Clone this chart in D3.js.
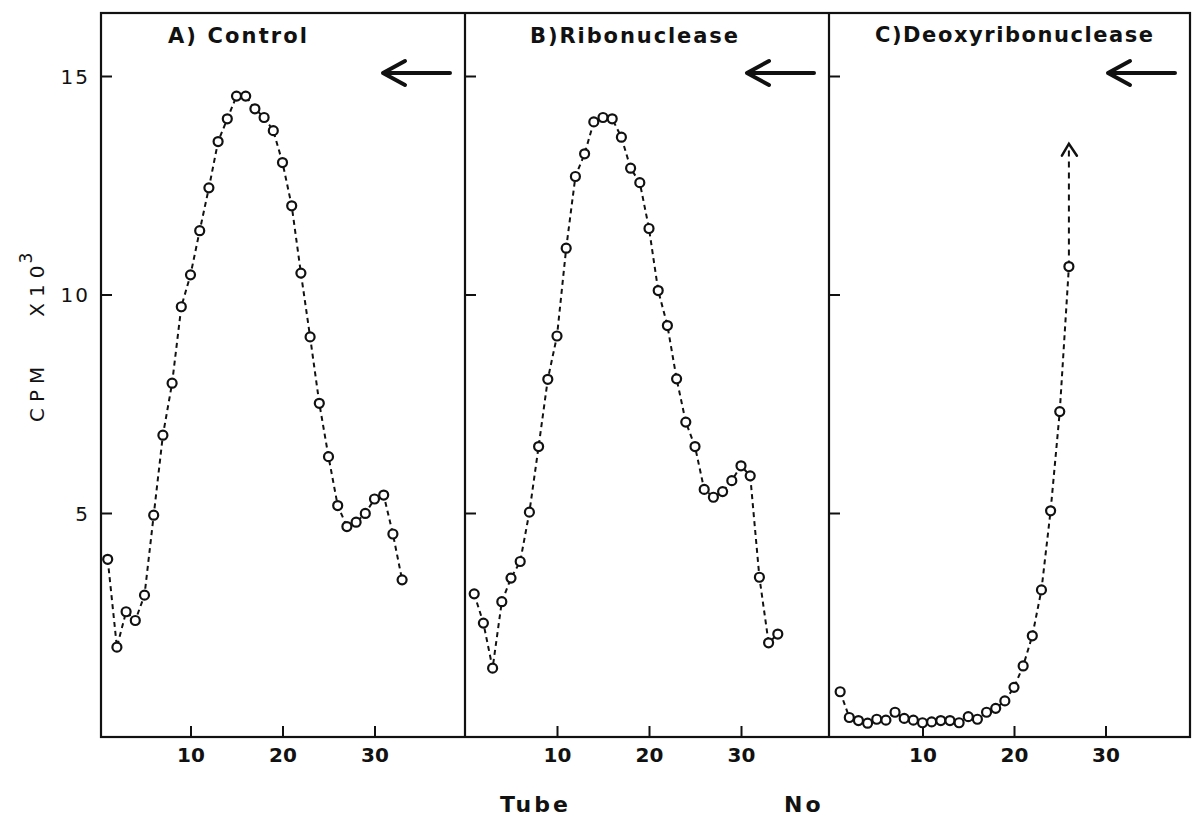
<!DOCTYPE html>
<html>
<head>
<meta charset="utf-8">
<script src="https://cdn.jsdelivr.net/npm/d3@7/dist/d3.min.js"></script>
<style>
body { margin: 0; background: #fff; }
text { font-family: "DejaVu Sans", sans-serif; fill: #111; }
</style>
</head>
<body>
<svg id="chart" width="1202" height="816"></svg>
<script>
// tube numbers and CPM (x10^3)
var tubesA = [1,2,3,4,5,6,7,8,9,10,11,12,13,14,15,16,17,18,19,20,21,22,23,24,25,26,27,28,29,30,31,32,33];
var cpmA = [3.94,1.93,2.74,2.54,3.12,4.95,6.78,7.97,9.72,10.45,11.46,12.44,13.5,14.02,14.54,14.54,14.25,14.05,13.75,13.02,12.03,10.49,9.03,7.51,6.29,5.17,4.69,4.79,4.99,5.32,5.41,4.52,3.47];

var tubesB = [1,2,3,4,5,6,7,8,9,10,11,12,13,14,15,16,17,18,19,20,21,22,23,24,25,26,27,28,29,30,31,32,33,34];
var cpmB = [3.15,2.48,1.45,2.97,3.51,3.89,5.02,6.52,8.06,9.05,11.06,12.7,13.22,13.95,14.05,14.02,13.6,12.89,12.56,11.51,10.09,9.29,8.07,7.08,6.52,5.54,5.36,5.49,5.74,6.08,5.85,3.53,2.03,2.23];

var tubesC = [1,2,3,4,5,6,7,8,9,10,11,12,13,14,15,16,17,18,19,20,21,22,23,24,25,26];
var cpmC = [0.91,0.32,0.25,0.19,0.28,0.26,0.44,0.30,0.26,0.20,0.22,0.25,0.25,0.20,0.34,0.28,0.44,0.53,0.70,1.01,1.50,2.19,3.24,5.05,7.32,10.64];
// panel C runs off scale: dashed line continues up to an arrowhead
var offScaleC = [26, 13.45];

var titles = ["A) Control", "B)Ribonuclease", "C)Deoxyribonuclease"];
var xTicks = [10, 20, 30];
var yTicks = [5, 10, 15];

var svg = d3.select("#chart");

var frameTop = 13, frameBottom = 737;
var y = d3.scaleLinear().domain([0, 15]).range([731.5, 76]);

var panels = [
    {left: 101, right: 465, range: [98.5, 466.5], tubes: tubesA, cpm: cpmA, title: titles[0], tx: 168, tw: 139, ty: 43},
    {left: 465, right: 829, range: [465, 833], tubes: tubesB, cpm: cpmB, title: titles[1], tx: 530, tw: 208, ty: 43},
    {left: 829, right: 1190, range: [831, 1197], tubes: tubesC, cpm: cpmC, title: titles[2], tx: 875, tw: 278, ty: 42}
];

// frame
svg.append("rect")
    .attr("x", 101).attr("y", frameTop)
    .attr("width", 1190 - 101).attr("height", frameBottom - frameTop)
    .attr("fill", "none").attr("stroke", "#111").attr("stroke-width", 2.2);

panels.forEach(function(p, k) {
    var x = d3.scaleLinear().domain([0, 40]).range(p.range);

    if (k > 0) {
        svg.append("line")
            .attr("x1", p.left).attr("x2", p.left)
            .attr("y1", frameTop).attr("y2", frameBottom)
            .attr("stroke", "#111").attr("stroke-width", 2.2);
    }

    // inward y ticks
    var yt = svg.append("g")
        .attr("transform", "translate(" + p.left + ",0)")
        .call(d3.axisRight(y).tickValues(yTicks).tickSize(11).tickFormat(""));
    yt.select(".domain").remove();
    yt.selectAll("line").attr("stroke", "#111").attr("stroke-width", 2);

    // inward x ticks
    var xt = svg.append("g")
        .attr("transform", "translate(0," + frameBottom + ")")
        .call(d3.axisTop(x).tickValues(xTicks).tickSize(11).tickFormat(""));
    xt.select(".domain").remove();
    xt.selectAll("line").attr("stroke", "#111").attr("stroke-width", 2);

    var xl = svg.append("g")
        .attr("transform", "translate(0," + frameBottom + ")")
        .call(d3.axisBottom(x).tickValues(xTicks).tickSize(0));
    xl.select(".domain").remove();
    xl.selectAll("text")
        .attr("y", 25).attr("dy", 0)
        .style("font-size", "20px").style("font-weight", "bold")
        .attr("fill", "#111");

    if (k === 0) {
        var yl = svg.append("g")
            .attr("transform", "translate(" + p.left + ",0)")
            .call(d3.axisLeft(y).tickValues(yTicks).tickSize(0).tickPadding(11));
        yl.select(".domain").remove();
        yl.selectAll("text")
            .attr("dy", "0.36em")
            .style("font-size", "20px")
            .style("letter-spacing", "2px")
            .attr("fill", "#111");
    }

    // title
    svg.append("text")
        .attr("x", p.tx).attr("y", p.ty)
        .attr("textLength", p.tw).attr("lengthAdjust", "spacing")
        .style("font-size", "21px").style("font-weight", "bold")
        .text(p.title);

    // left pointing arrow, top right of each panel
    var ay = y(15) - 3, tip = p.right - 82, tail = p.right - 15;
    svg.append("path")
        .attr("d", "M" + tail + "," + ay + "H" + tip +
              "M" + (tip + 22) + "," + (ay - 12) + "L" + tip + "," + ay + "L" + (tip + 22) + "," + (ay + 12))
        .attr("fill", "none").attr("stroke", "#111")
        .attr("stroke-width", 4).attr("stroke-linecap", "round").attr("stroke-linejoin", "round");

    var pts = p.tubes.map(function(t, i) { return [t, p.cpm[i]]; });

    var line = d3.line()
        .x(function(d) { return x(d[0]); })
        .y(function(d) { return y(d[1]); });

    svg.append("path")
        .datum(pts)
        .attr("d", line)
        .attr("fill", "none").attr("stroke", "#111")
        .attr("stroke-width", 2).attr("stroke-dasharray", "5,4");

    if (k === 2) {
        var last = pts[pts.length - 1];
        svg.append("path")
            .datum([last, offScaleC])
            .attr("d", line)
            .attr("fill", "none").attr("stroke", "#111")
            .attr("stroke-width", 2).attr("stroke-dasharray", "6,5");
        var hx = x(offScaleC[0]), hy = y(offScaleC[1]);
        svg.append("path")
            .attr("d", "M" + (hx - 7) + "," + (hy + 12) + "L" + hx + "," + hy + "L" + (hx + 8) + "," + (hy + 12))
            .attr("fill", "none").attr("stroke", "#111")
            .attr("stroke-width", 2.5).attr("stroke-linecap", "round");
    }

    svg.append("g").selectAll("circle")
        .data(pts)
        .enter().append("circle")
        .attr("cx", function(d) { return x(d[0]); })
        .attr("cy", function(d) { return y(d[1]); })
        .attr("r", 4.5)
        .attr("fill", "#fff").attr("stroke", "#111").attr("stroke-width", 2.2);
});

// axis titles
var ylab = svg.append("text")
    .attr("transform", "translate(44,422) rotate(-90)")
    .style("font-size", "20px")
    .style("letter-spacing", "6px");
ylab.append("tspan").text("CPM");
ylab.append("tspan").attr("dx", 44).text("X10");
ylab.append("tspan").attr("dy", -12).attr("dx", -4).style("font-size", "17px").text("3");

svg.append("text")
    .attr("x", 500).attr("y", 812)
    .style("font-size", "22px").style("font-weight", "bold")
    .style("letter-spacing", "3px")
    .text("Tube");

svg.append("text")
    .attr("x", 784).attr("y", 812)
    .style("font-size", "22px").style("font-weight", "bold")
    .style("letter-spacing", "3px")
    .text("No");
</script>
</body>
</html>
